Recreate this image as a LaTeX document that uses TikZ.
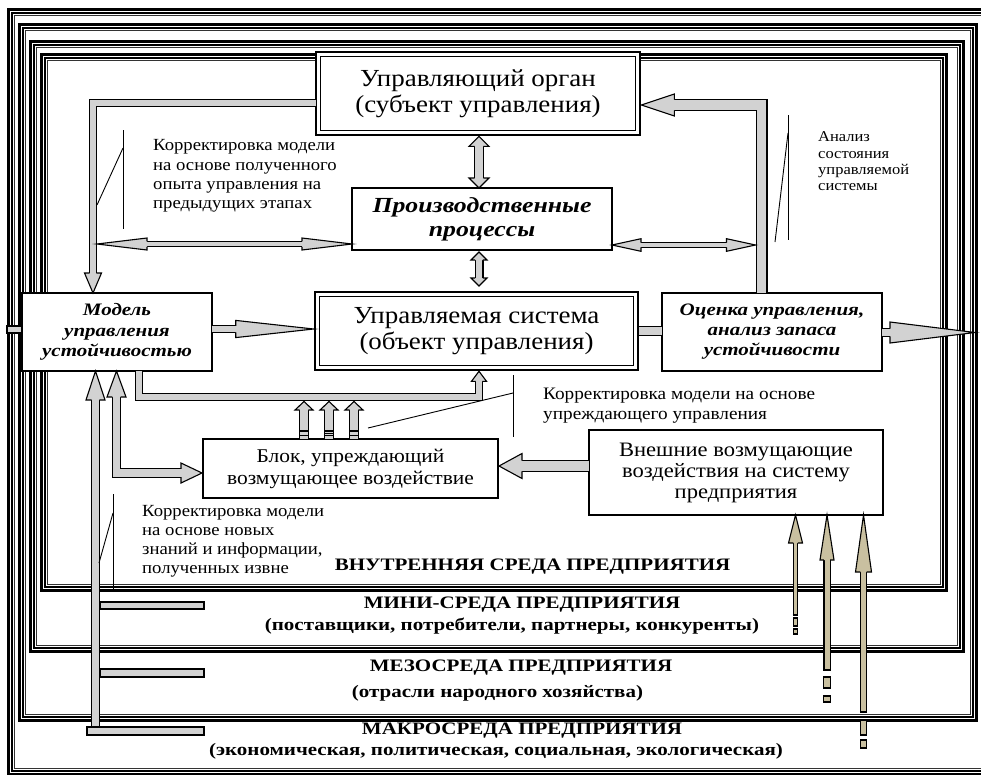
\documentclass[tikz,border=0pt]{standalone}
\usepackage{fontspec}
\setmainfont{Liberation Serif}
\newfontfamily\midserif[FakeStretch=1.1]{Liberation Serif}
\newfontfamily\wideserif[FakeStretch=1.2]{Liberation Serif}
\usetikzlibrary{calc}
\definecolor{bandgrey}{RGB}{210,210,210}
\definecolor{sandfill}{RGB}{201,192,160}
\newcommand\fs[2]{\fontsize{#1}{#2}\selectfont}
\tikzset{
  outl/.style={line width=1.1pt, line join=miter},
  band/.style={double=bandgrey, double distance=#1, line width=1.1pt, line join=miter},
  sandband/.style={double=sandfill, double distance=#1, line width=1.1pt},
  barbox/.style={fill=bandgrey, draw, line width=1.1pt},
  plainbox/.style={draw, line width=1.4pt, fill=white, inner sep=0pt, outer sep=0pt, align=center},
  heavybox/.style={draw, line width=2.6pt, fill=white, inner sep=0pt, outer sep=0pt, align=center},
  callout/.style={line width=0.9pt},
  note/.style={inner sep=0pt, anchor=west, align=left},
  envlabel/.style={inner sep=0pt, font=\wideserif\bfseries\fs{17.5}{20}},
  envsub/.style={inner sep=0pt, font=\wideserif\bfseries\fs{17.5}{20}},
}
% block arrow head: base point, tip point, shaft half width, head half width
\newcommand\bhead[5][bandgrey]{%
  \fill[#1] ($(#2)!#5!90:(#3)$) -- (#3) -- ($(#2)!#5!-90:(#3)$) -- cycle;
  \draw[outl] ($(#2)!#4!90:(#3)$) -- ($(#2)!#5!90:(#3)$) -- (#3) -- ($(#2)!#5!-90:(#3)$) -- ($(#2)!#4!-90:(#3)$);
}
% environment frame: thick outer line, thinner inner lines
\newcommand\envframe[4]{%
  \draw[line width=3pt] (#1+1.5,#2+1.5) rectangle (#3-1.5,#4-1.5);
  \draw[line width=1.3pt] (#1+5,#2+5) rectangle (#3-5,#4-5);
  \draw[line width=0.9pt, black!80] (#1+7.3,#2+7.3) rectangle (#3-7.3,#4-7.3);
}
\begin{document}
\begin{tikzpicture}[x=1pt,y=-1pt]
\useasboundingbox (0,0) rectangle (981,774);
\fill[white] (0,0) rectangle (981,774);

% nested environments
\envframe{7}{8}{992}{776}
\envframe{18}{23}{978}{722}
\envframe{29}{40}{965}{653}
\envframe{40}{53}{948}{592}

% boxes
\node[heavybox, minimum width=324pt, minimum height=83pt, font=\midserif\fs{24.5}{26}] (uo) at (478,93.5)
  {Управляющий орган\\(субъект управления)};
\draw[line width=1.2pt] ($(uo.south west)+(4.2,-4.2)$) rectangle ($(uo.north east)+(-4.2,4.2)$);

\node[plainbox, minimum width=260pt, minimum height=62pt, font=\wideserif\bfseries\itshape\fs{21.5}{24}] (pp) at (482,219)
  {Производственные\\процессы};

\node[heavybox, minimum width=323pt, minimum height=78pt, font=\midserif\fs{24.5}{26}] (us) at (476.5,331)
  {Управляемая система\\(объект управления)};
\draw[line width=1.2pt] ($(us.south west)+(4.2,-4.2)$) rectangle ($(us.north east)+(-4.2,4.2)$);

\node[plainbox, minimum width=190pt, minimum height=78pt, font=\wideserif\bfseries\itshape\fs{17.5}{20.5}] (mu) at (117,332)
  {Модель\\управления\\устойчивостью};

\node[plainbox, minimum width=220pt, minimum height=78pt, font=\wideserif\bfseries\itshape\fs{17.5}{20}] (oc) at (772,332)
  {Оценка управления,\\анализ запаса\\устойчивости};

\node[plainbox, minimum width=295pt, minimum height=59pt, font=\midserif\fs{19.5}{22}] (bl) at (350.5,468.5)
  {Блок, упреждающий\\возмущающее воздействие};

\node[plainbox, minimum width=294pt, minimum height=85pt, font=\midserif\fs{20.5}{21}] (vv) at (736,472.5)
  {Внешние возмущающие\\воздействия на систему\\предприятия};

% uo -> mu (left L-shaped arrow)
\coordinate (k1) at (93,103);
\coordinate (k1t) at (k1 |- mu.north);
\coordinate (k1b) at ($(k1t)+(0,-20)$);
\draw[band=5.8pt] (k1 -| uo.west) -- (k1) -- (k1b);
\bhead{k1b}{k1t}{3.45pt}{8.5pt}

% uo <-> pp
\coordinate (a2t) at ($(uo.south)+(1,1.3)$);
\coordinate (a2u) at (a2t |- pp.north);
\coordinate (a2tb) at ($(a2t)+(0,10)$);
\coordinate (a2ub) at ($(a2u)+(0,-10)$);
\draw[band=7.8pt] (a2tb) -- (a2ub);
\bhead{a2tb}{a2t}{4.45pt}{10pt}
\bhead{a2ub}{a2u}{4.45pt}{10pt}

% pp <-> us
\coordinate (a3t) at ($(pp.south)+(-3,2)$);
\coordinate (a3u) at ($(a3t |- us.north)+(0,-6)$);
\coordinate (a3tb) at ($(a3t)+(0,8)$);
\coordinate (a3ub) at ($(a3u)+(0,-8)$);
\draw[band=6.8pt] (a3tb) -- (a3ub);
\bhead{a3tb}{a3t}{3.95pt}{8pt}
\bhead{a3ub}{a3u}{3.95pt}{8pt}

% left bar <-> pp
\coordinate (a4r) at ($(pp.west)+(0,25)$);
\coordinate (a4l) at ($(a4r -| k1)+(4,0)$);
\coordinate (a4rb) at ($(a4r)+(-50,0)$);
\coordinate (a4lb) at ($(a4l)+(50,0)$);
\draw[band=4.4pt] (a4lb) -- (a4rb);
\bhead{a4lb}{a4l}{2.75pt}{6pt}
\bhead{a4rb}{a4r}{2.75pt}{6pt}

% oc -> uo (right L-shaped arrow)
\coordinate (k6) at (761.5,105);
\coordinate (k6t) at ($(k6 -| uo.east)+(1.3,0)$);
\coordinate (k6b) at ($(k6t)+(33,0)$);
\draw[band=9.8pt] (k6 |- oc.north) -- (k6) -- (k6b);
\bhead{k6b}{k6t}{5.45pt}{11pt}

% pp <-> right bar
\coordinate (a5l) at ($(pp.east)+(0,26)$);
\coordinate (a5r) at ($(a5l -| k6)+(-6,0)$);
\coordinate (a5lb) at ($(a5l)+(29,0)$);
\coordinate (a5rb) at ($(a5r)+(-29,0)$);
\draw[band=3.8pt] (a5lb) -- (a5rb);
\bhead{a5lb}{a5l}{2.45pt}{6.3pt}
\bhead{a5rb}{a5r}{2.45pt}{6.3pt}

% mu -> us
\coordinate (a7s) at ($(mu.east)+(0,-3)$);
\coordinate (a7t) at ($(a7s -| us.west)+(-1.3,0)$);
\coordinate (a7b) at ($(a7t)+(-78,0)$);
\draw[band=5.4pt] (a7s) -- (a7b);
\bhead{a7b}{a7t}{3.25pt}{8.6pt}

% us -- oc
\draw[band=7.6pt] ($(us.east)+(1.3,0)$) -- (us.east -| oc.west);

% oc -> outside
\coordinate (a9s) at ($(oc.east)+(0,0.5)$);
\coordinate (a9b) at ($(a9s)+(8,0)$);
\coordinate (a9t) at ($(a9s)+(93,0)$);
\draw[band=6.8pt] (a9s) -- (a9b);
\bhead{a9b}{a9t}{3.95pt}{10.5pt}

% input stub on the left of mu
\draw[barbox] (7,326) rectangle ($(mu.west)+(0,1)$);

% mu -> us along the bottom
\coordinate (k11) at (139,397);
\coordinate (k11r) at (479,397);
\coordinate (k11t) at ($(k11r |- us.south)+(0,1.3)$);
\coordinate (k11b) at ($(k11t)+(0,10)$);
\draw[band=5.8pt] (k11 |- mu.south) -- (k11) -- (k11r) -- (k11b);
\bhead{k11b}{k11t}{3.45pt}{7.5pt}

% three small arrows from bl to the bottom bar
\foreach \dx/\nm in {304/s1, 329/s2, 354/s3} {
  \coordinate (\nm a) at (\dx,401.5);
  \coordinate (\nm b) at (\dx,410);
  \draw[band=7.8pt] (\nm b) -- (\nm b |- bl.north);
  \bhead{\nm b}{\nm a}{4.45pt}{9pt}
  \draw[line width=1.4pt] ($(\nm b |- bl.north)+(-4.4,-8)$) -- ++(8.8,0);
  \draw[line width=1.4pt] ($(\nm b |- bl.north)+(-4.4,-3.5)$) -- ++(8.8,0);
}
\draw[line width=1.4pt] ($(s2b |- bl.north)+(-4.4,-5.8)$) -- ++(8.8,0);

% left comb: outer knowledge -> mu
\coordinate (c13) at (95.5,371);
\coordinate (c13t) at (c13 |- mu.south);
\coordinate (c13b) at ($(c13t)+(0,29)$);
\draw[band=6.8pt] (95.5,727) -- (c13b);
\bhead{c13b}{c13t}{3.95pt}{9.5pt}
\draw[barbox] (100,602) rectangle (204,609);
\draw[barbox] (100,669) rectangle (204,677);
\draw[barbox] (87,727) rectangle (204,735);

% mu <-> bl
\coordinate (k14) at (116.5,473);
\coordinate (k14u) at (k14 |- mu.south);
\coordinate (k14ub) at ($(k14u)+(0,26)$);
\coordinate (k14r) at ($(k14 -| bl.west)+(-1,0)$);
\coordinate (k14rb) at ($(k14r)+(-21,0)$);
\draw[band=7.3pt] (k14ub) -- (k14) -- (k14rb);
\bhead{k14ub}{k14u}{4.2pt}{9.5pt}
\bhead{k14rb}{k14r}{4.2pt}{10pt}

% vv -> bl
\coordinate (a15s) at ($(vv.west)+(0,-6.5)$);
\coordinate (a15t) at ($(a15s -| bl.east)+(1,0)$);
\coordinate (a15b) at ($(a15t)+(23,0)$);
\draw[band=9.8pt] (a15s) -- (a15b);
\bhead{a15b}{a15t}{5.45pt}{12.5pt}

% external influences entering from the outer environments
\foreach \nm/\px/\hl/\se/\sh/\hh/\da/\db/\dc/\dd in
  {ea/795.5/28/615/2.8/7/618/626/629/634,
   eb/827/45/670/3.6/7/677/688/696/702,
   ec/863.5/57/712/3.7/8/720/735/740/748} {
  \coordinate (\nm 0) at (\px,516);
  \coordinate (\nm t) at (\nm 0 |- vv.south);
  \coordinate (\nm b) at ($(\nm t)+(0,\hl)$);
  \draw[sandband=2*\sh pt-2.2pt] (\nm b) -- (\px,\se);
  \draw[outl] (\px-\sh,\se) -- (\px+\sh,\se);
  \bhead[sandfill]{\nm b}{\nm t}{\sh pt-0.55pt}{\hh pt}
  \draw[outl, fill=sandfill] (\px-\sh+0.5,\da) rectangle (\px+\sh-0.5,\db);
  \draw[outl, fill=sandfill] (\px-\sh+0.5,\dc) rectangle (\px+\sh-0.5,\dd);
}

% callouts
\draw[callout] (123,130) -- (123,229);
\draw[callout] (123,148) -- (97,205);
\node[note, font=\midserif\fs{17}{19.3}] (n1) at (153,176)
  {Корректировка модели\\на основе полученного\\опыта управления на\\предыдущих этапах};

\draw[callout] (788,115) -- (788,240);
\draw[callout] (788,133) -- (775,242);
\node[note, font=\midserif\fs{15}{16.3}] (n2) at (818,161.5)
  {Анализ\\состояния\\управляемой\\системы};

\draw[callout] (513,375) -- (513,437);
\draw[callout] (513,393) -- (368,428);
\node[note, font=\midserif\fs{17.5}{20}] (n3) at (543,406)
  {Корректировка модели на основе\\упреждающего управления};

\draw[callout] (113,494) -- (113,592);
\draw[callout] (113,513) -- (99,563);
\node[note, font=\midserif\fs{17}{19}] (n4) at (142,541)
  {Корректировка модели\\на основе новых\\знаний и информации,\\полученных извне};

% environment labels
\node[envlabel] (l1) at (532.5,567) {ВНУТРЕННЯЯ СРЕДА ПРЕДПРИЯТИЯ};
\node[envlabel] (l2) at (522,605) {МИНИ-СРЕДА ПРЕДПРИЯТИЯ};
\node[envsub] (l3) at (512,626) {(поставщики, потребители, партнеры, конкуренты)};
\node[envlabel] (l4) at (521,668) {МЕЗОСРЕДА ПРЕДПРИЯТИЯ};
\node[envsub] (l5) at (497.5,693) {(отрасли народного хозяйства)};
\node[envlabel] (l6) at (522,731) {МАКРОСРЕДА ПРЕДПРИЯТИЯ};
\node[envsub] (l7) at (496,751) {(экономическая, политическая, социальная, экологическая)};
\end{tikzpicture}
\end{document}
